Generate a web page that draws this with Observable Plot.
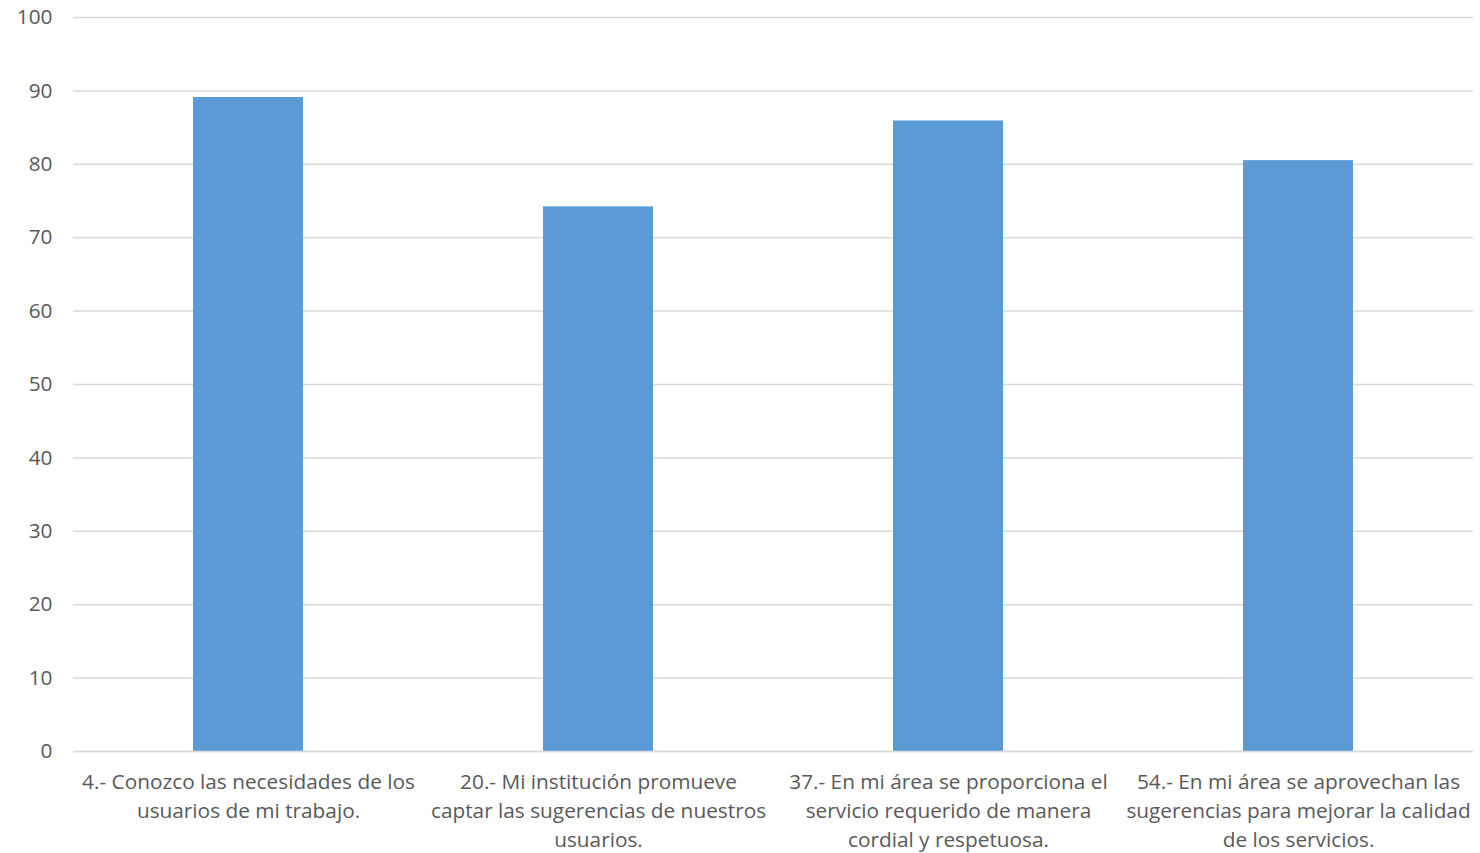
<!DOCTYPE html>
<html>
<head>
<meta charset="utf-8">
<script src="https://cdn.jsdelivr.net/npm/d3@7"></script>
<script src="https://cdn.jsdelivr.net/npm/@observablehq/plot@0.6"></script>
<style>
  html, body { margin: 0; padding: 0; background: #fff; }
  #chart svg { display: block; }
</style>
</head>
<body>
<div id="chart"></div>
<script>
const categories = [
  "4.- Conozco las necesidades de los\nusuarios de mi trabajo.",
  "20.- Mi institución promueve\ncaptar las sugerencias de nuestros\nusuarios.",
  "37.- En mi área se proporciona el\nservicio requerido de manera\ncordial y respetuosa.",
  "54.- En mi área se aprovechan las\nsugerencias para mejorar la calidad\nde los servicios."
];
const values = [89.1, 74.2, 85.9, 80.5];
const yTicks = [0, 10, 20, 30, 40, 50, 60, 70, 80, 90, 100];

const data = categories.map((c, i) => ({ cat: c, value: values[i] }));

const chart = Plot.plot({
  width: 1480,
  height: 853,
  marginLeft: 73,
  marginRight: 7,
  marginTop: 17,
  marginBottom: 102,
  style: { fontFamily: "'Open Sans', sans-serif", background: "#fff" },
  x: { domain: categories, paddingInner: 0.686, paddingOuter: 0.343 },
  y: { domain: [0, 100] },
  marks: [
    Plot.gridY(yTicks, { stroke: "#d9d9d9", strokeOpacity: 1, strokeWidth: 1.5 }),
    Plot.barY(data, { x: "cat", y: "value", fill: "#5B9BD5" }),
    Plot.ruleY([0], { stroke: "#d9d9d9", strokeWidth: 1.5 }),
    Plot.axisY(yTicks, { tickSize: 0, tickPadding: 21, fontSize: 20.8, fill: "#595959", label: null }),
    Plot.axisX({ tickSize: 0, tickPadding: 17, fontSize: 20.8, fill: "#595959", lineHeight: 1.39, label: null })
  ]
});
document.getElementById("chart").appendChild(chart);
</script>
</body>
</html>
